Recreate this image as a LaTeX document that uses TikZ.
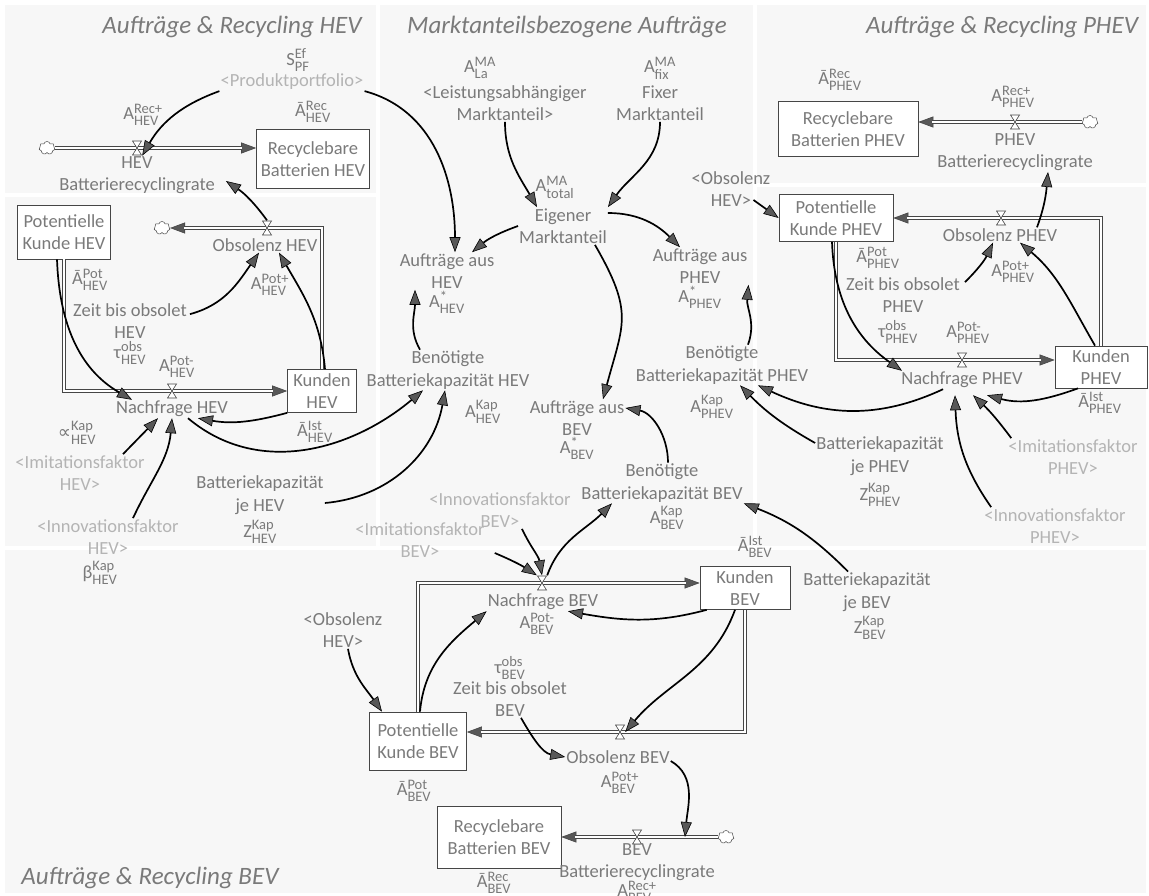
\documentclass[tikz,border=0pt]{standalone}
\usepackage{amsmath}
\usepackage{fontspec}
\setmainfont{Carlito}
\newfontfamily\symbolfont{DejaVu Sans}
\usepackage{tikz}
\usetikzlibrary{arrows.meta,shapes.symbols}
\usepackage{xcolor}
\definecolor{sdGray}{RGB}{122,122,122}
\definecolor{sdLightGray}{RGB}{180,180,180}
\definecolor{sdPanel}{RGB}{247,247,247}
\definecolor{sdTip}{RGB}{88,88,88}
\definecolor{sdLine}{RGB}{70,70,70}

\DeclareMathSizes{18.5}{18.5}{14.5}{11}
\newcommand{\varfont}{\fontsize{18.5}{22.5}\selectfont}
\newcommand{\titlefont}{\fontsize{25}{30}\selectfont\itshape}
\newcommand{\sdsym}[3]{#1$^{\text{#2}}_{\text{#3}}$}

\begin{document}
\begin{tikzpicture}[
    x=1pt, y=-1pt,
    var/.style={text=sdGray, align=center, inner sep=1pt, font=\varfont},
    shadowvar/.style={var, text=sdLightGray},
    stock/.style={rectangle, draw=sdLine, fill=white, line width=0.7pt, align=center, inner sep=2pt, text=sdGray, font=\varfont},
    panel/.style={fill=sdPanel},
    paneltitle/.style={text=sdGray, font=\titlefont, inner sep=0pt},
    link/.style={draw=black, line width=1.7pt, -{Triangle[length=15pt, width=11pt, fill=sdTip, line width=0.6pt]}},
    pipe/.style={draw=sdLine, line width=0.7pt, double=white, double distance=2.6pt, shorten >=14pt},
    pipehead/.style={draw=sdLine, line width=0.3pt, -{Triangle[length=15pt, width=11pt, fill=sdTip, line width=0.6pt]}},
    valve/.style={rectangle, minimum width=10pt, minimum height=15pt, inner sep=0pt,
        path picture={\draw[sdLine, fill=white, line width=0.6pt]
            ([shift={(0.5pt,-0.5pt)}]path picture bounding box.north west) --
            ([shift={(-0.5pt,-0.5pt)}]path picture bounding box.north east) --
            ([shift={(0.5pt,0.5pt)}]path picture bounding box.south west) --
            ([shift={(-0.5pt,0.5pt)}]path picture bounding box.south east) -- cycle;}},
    source/.style={cloud, cloud puffs=7, aspect=1.3, draw=sdLine, fill=white, line width=0.5pt, minimum width=16pt, minimum height=13pt, inner sep=0pt}
]

\useasboundingbox (0,0) rectangle (1149,896);
\fill[white] (0,0) rectangle (1149,896);

% Background panels
\fill[panel] (5,5) rectangle (376,193);
\fill[panel] (5,197) rectangle (376,546);
\fill[panel] (380,5) rectangle (753,546);
\fill[panel] (757,5) rectangle (1146,183);
\fill[panel] (757,187) rectangle (1146,546);
\fill[panel] (5,550) rectangle (1146,893);

% Auftraege & Recycling HEV (top left)
\node[paneltitle] (titleHEV) at (232,27) {Aufträge \& Recycling HEV};
\node[var] (sefPF) at (298,60) {\sdsym{S}{Ef}{PF}};
\node[shadowvar] (portfolio) at (292,82) {<Produktportfolio>};
\node[var] (recHEVsym) at (313,112) {\sdsym{Ā}{Rec}{HEV}};
\node[stock, minimum width=113pt, minimum height=59pt] (recHEV) at (313,159) {Recyclebare\\Batterien HEV};
\node[var] (recRateHEVsym) at (143,115) {\sdsym{A}{Rec+}{HEV}};
\node[var] (recRateHEV) at (137,175) {HEV\\Batterierecyclingrate};
\node[source] (cloudRecHEV) at (47,148) {};

% Kunden HEV (middle left)
\node[stock, minimum width=93pt, minimum height=54pt] (potHEV) at (64,232) {Potentielle\\Kunde HEV};
\node[var] (potHEVsym) at (90,280) {\sdsym{Ā}{Pot}{HEV}};
\node[stock, minimum width=69pt, minimum height=43pt] (kunHEV) at (322,391) {Kunden\\HEV};
\node[var] (kunHEVsym) at (315,432) {\sdsym{Ā}{Ist}{HEV}};
\node[source] (cloudObsHEV) at (162,228) {};
\node[var] (obsHEV) at (265,245) {Obsolenz HEV};
\node[var] (obsHEVsym) at (270,285) {\sdsym{A}{Pot+}{HEV}};
\node[var] (zeitHEV) at (130,321) {Zeit bis obsolet\\HEV};
\node[var] (tauHEV) at (130,353) {\sdsym{τ}{obs}{HEV}};
\node[var] (nachHEVsym) at (177,367) {\sdsym{A}{Pot-}{HEV}};
\node[var] (nachHEV) at (172,409) {Nachfrage HEV};
\node[var] (imiHEVsym) at (77,433) {\sdsym{{\symbolfont ∝}}{Kap}{HEV}};
\node[shadowvar] (imiHEV) at (80,473) {<Imitationsfaktor\\HEV>};
\node[shadowvar] (innoHEV) at (108,537) {<Innovationsfaktor\\HEV>};
\node[var] (innoHEVsym) at (100,573) {\sdsym{β}{Kap}{HEV}};
\node[var] (kapHEV) at (260,495) {Batteriekapazität\\je HEV};
\node[var] (kapHEVsym) at (260,532) {\sdsym{Z}{Kap}{HEV}};

% Marktanteilsbezogene Auftraege (middle)
\node[paneltitle] (titleMA) at (567,27) {Marktanteilsbezogene Aufträge};
\node[var] (laMAsym) at (480,68) {\sdsym{A}{MA}{La}};
\node[var] (laMA) at (505,103) {<Leistungsabhängiger\\Marktanteil>};
\node[var] (fixMAsym) at (660,68) {\sdsym{A}{MA}{fix}};
\node[var] (fixMA) at (660,103) {Fixer\\Marktanteil};
\node[var] (totalMAsym) at (555,187) {\sdsym{A}{MA}{total}};
\node[var] (eigMA) at (563,226) {Eigener\\Marktanteil};
\node[var] (aufHEV) at (447,271) {Aufträge aus\\HEV};
\node[var] (aufHEVsym) at (447,302) {\sdsym{A}{*}{HEV}};
\node[var] (benHEV) at (448,370) {Benötigte\\Batteriekapazität HEV};
\node[var] (benHEVsym) at (483,412) {\sdsym{A}{Kap}{HEV}};
\node[var] (aufPHEV) at (700,266) {Aufträge aus\\PHEV};
\node[var] (aufPHEVsym) at (700,297) {\sdsym{A}{*}{PHEV}};
\node[var] (benPHEV) at (722,365) {Benötigte\\Batteriekapazität PHEV};
\node[var] (benPHEVsym) at (712,407) {\sdsym{A}{Kap}{PHEV}};
\node[var] (aufBEV) at (577,418) {Aufträge aus\\BEV};
\node[var] (aufBEVsym) at (577,448) {\sdsym{A}{*}{BEV}};
\node[var] (benBEV) at (662,483) {Benötigte\\Batteriekapazität BEV};
\node[var] (benBEVsym) at (667,518) {\sdsym{A}{Kap}{BEV}};
\node[shadowvar] (innoBEV) at (500,510) {<Innovationsfaktor\\BEV>};
\node[shadowvar] (imiBEV) at (420,540) {<Imitationsfaktor\\BEV>};

% Auftraege & Recycling PHEV (right)
\node[paneltitle] (titlePHEV) at (1002,27) {Aufträge \& Recycling PHEV};
\node[var] (recPHEVsym) at (840,80) {\sdsym{Ā}{Rec}{PHEV}};
\node[stock, minimum width=140pt, minimum height=55pt] (recPHEV) at (848,129) {Recyclebare\\Batterien PHEV};
\node[var] (recRatePHEVsym) at (1013,97) {\sdsym{A}{Rec+}{PHEV}};
\node[var] (recRatePHEV) at (1015,152) {PHEV\\Batterierecyclingrate};
\node[source] (cloudRecPHEV) at (1090,122) {};
\node[var] (obsInPHEV) at (731,189) {<Obsolenz\\HEV>};
\node[stock, minimum width=114pt, minimum height=47pt] (potPHEV) at (836,218) {Potentielle\\Kunde PHEV};
\node[var] (potPHEVsym) at (878,258) {\sdsym{Ā}{Pot}{PHEV}};
\node[var] (obsPHEV) at (1000,235) {Obsolenz PHEV};
\node[var] (obsPHEVsym) at (1013,272) {\sdsym{A}{Pot+}{PHEV}};
\node[var] (zeitPHEV) at (903,295) {Zeit bis obsolet\\PHEV};
\node[var] (tauPHEV) at (898,332) {\sdsym{τ}{obs}{PHEV}};
\node[var] (nachPHEVsym) at (968,333) {\sdsym{A}{Pot-}{PHEV}};
\node[stock, minimum width=92pt, minimum height=42pt] (kunPHEV) at (1101,367) {Kunden\\PHEV};
\node[var] (nachPHEV) at (962,380) {Nachfrage PHEV};
\node[var] (kunPHEVsym) at (1100,403) {\sdsym{Ā}{Ist}{PHEV}};
\node[var] (kapPHEV) at (880,456) {Batteriekapazität\\je PHEV};
\node[var] (kapPHEVsym) at (880,495) {\sdsym{Z}{Kap}{PHEV}};
\node[shadowvar] (imiPHEV) at (1073,457) {<Imitationsfaktor\\PHEV>};
\node[shadowvar] (innoPHEV) at (1055,526) {<Innovationsfaktor\\PHEV>};

% Auftraege & Recycling BEV (bottom)
\node[paneltitle] (titleBEV) at (150,878) {Aufträge \& Recycling BEV};
\node[stock, minimum width=90pt, minimum height=43pt] (kunBEV) at (745,588) {Kunden\\BEV};
\node[var] (kunBEVsym) at (755,547) {\sdsym{Ā}{Ist}{BEV}};
\node[var] (kapBEV) at (867,592) {Batteriekapazität\\je BEV};
\node[var] (kapBEVsym) at (870,628) {\sdsym{Z}{Kap}{BEV}};
\node[var] (nachBEV) at (543,602) {Nachfrage BEV};
\node[var] (nachBEVsym) at (537,624) {\sdsym{A}{Pot-}{BEV}};
\node[var] (obsInBEV) at (343,630) {<Obsolenz\\HEV>};
\node[var] (tauBEV) at (510,668) {\sdsym{τ}{obs}{BEV}};
\node[var] (zeitBEV) at (510,699) {Zeit bis obsolet\\BEV};
\node[stock, minimum width=97pt, minimum height=58pt] (potBEV) at (418,741) {Potentielle\\Kunde BEV};
\node[var] (potBEVsym) at (414,791) {\sdsym{Ā}{Pot}{BEV}};
\node[var] (obsBEV) at (618,757) {Obsolenz BEV};
\node[var] (obsBEVsym) at (620,783) {\sdsym{A}{Pot+}{BEV}};
\node[stock, minimum width=124pt, minimum height=62pt] (recBEV) at (499,837) {Recyclebare\\Batterien BEV};
\node[var] (recBEVsym) at (494,883) {\sdsym{Ā}{Rec}{BEV}};
\node[var] (recRateBEV) at (637,862) {BEV\\Batterierecyclingrate};
\node[var] (recRateBEVsym) at (637,892) {\sdsym{A}{Rec+}{BEV}};
\node[source] (cloudRecBEV) at (726,837) {};

% Flow pipes (head first, double line on top)
\draw[pipehead] (cloudRecHEV.east) -- (cloudRecHEV.east -| recHEV.west);
\draw[pipe] (cloudRecHEV.east) -- (cloudRecHEV.east -| recHEV.west);
\draw[pipehead] (potHEV.south) |- (kunHEV.west);
\draw[pipe] (potHEV.south) |- (kunHEV.west);
\draw[pipehead] (kunHEV.north) |- (cloudObsHEV.east);
\draw[pipe] (kunHEV.north) |- (cloudObsHEV.east);

\draw[pipehead] (cloudRecPHEV.west) -- (cloudRecPHEV.west -| recPHEV.east);
\draw[pipe] (cloudRecPHEV.west) -- (cloudRecPHEV.west -| recPHEV.east);
\draw[pipehead] (potPHEV.south) |- ([yshift=7pt]kunPHEV.west);
\draw[pipe] (potPHEV.south) |- ([yshift=7pt]kunPHEV.west);
\draw[pipehead] (kunPHEV.north) |- (potPHEV.east);
\draw[pipe] (kunPHEV.north) |- (potPHEV.east);

\draw[pipehead] (potBEV.north) |- ([yshift=5pt]kunBEV.west);
\draw[pipe] (potBEV.north) |- ([yshift=5pt]kunBEV.west);
\draw[pipehead] (kunBEV.south) |- ([yshift=9pt]potBEV.east);
\draw[pipe] (kunBEV.south) |- ([yshift=9pt]potBEV.east);
\draw[pipehead] (cloudRecBEV.west) -- (cloudRecBEV.west -| recBEV.east);
\draw[pipe] (cloudRecBEV.west) -- (cloudRecBEV.west -| recBEV.east);

% Valves
\node[valve] (valveRecHEV) at (137,148) {};
\node[valve] (valveNachHEV) at (172,391) {};
\node[valve] (valveObsHEV) at (267,228) {};
\node[valve] (valveRecPHEV) at (1015,122) {};
\node[valve] (valveNachPHEV) at (962,360) {};
\node[valve] (valveObsPHEV) at (1001,218) {};
\node[valve] (valveNachBEV) at (542,583) {};
\node[valve] (valveObsBEV) at (620,732) {};
\node[valve] (valveRecBEV) at (637,837) {};

% Causal links HEV
\draw[link] (portfolio.south west) to[bend right=20] (valveRecHEV.south east);
\draw[link] (valveObsHEV.north) to[bend right=10] ([shift={(10,6)}]recRateHEV.east);
\draw[link] (portfolio.south east) to[out=-15, in=90] ([xshift=8pt]aufHEV.north);
\draw[link] ([xshift=-7pt]potHEV.south) to[out=-88, in=150] ([xshift=-40pt]nachHEV.north);
\draw[link] ([shift={(2,12)}]zeitHEV.north east) to[out=15, in=-125] ([xshift=-6pt]obsHEV.south);
\draw[link] ([xshift=3pt]kunHEV.north) to[out=95, in=-60] ([xshift=14pt]obsHEV.south);
\draw[link] (kunHEV.south west) to[out=195, in=-10] ([xshift=26pt]nachHEV.south);
\draw[link] ([xshift=16pt]nachHEV.south) to[out=-40, in=-140] ([xshift=-25pt]benHEV.south);
\draw[link] ([yshift=-8pt]kapHEV.east) to[out=5, in=-100] ([xshift=-3pt]benHEV.south);
\draw[link] ([xshift=43pt]imiHEV.north) -- ([xshift=-14pt]nachHEV.south);
\draw[link] ([xshift=25pt]innoHEV.north) to[out=65, in=-95] (nachHEV.south);

% Causal links market share
\draw[link] (laMA.south) to[out=-90, in=120] ([xshift=-26pt]eigMA.north);
\draw[link] (fixMA.south) to[out=-90, in=55] (eigMA.north east);
\draw[link] (eigMA.west) to[bend right=10] ([xshift=25pt]aufHEV.north);
\draw[link] ([yshift=13pt]eigMA.east) to[out=0, in=135] ([xshift=-20pt]aufPHEV.north);
\draw[link] ([xshift=-13pt]eigMA.south east) to[out=-60, in=75, looseness=1.3] ([xshift=26pt]aufBEV.north);
\draw[link] ([xshift=-28pt]benHEV.north) to[out=120, in=-90] ([xshift=-32pt]aufHEV.south);
\draw[link] ([xshift=26pt]benPHEV.north) to[out=70, in=-95] (aufPHEV.south east);
\draw[link] ([xshift=6pt]benBEV.north) to[out=90, in=-10] ([yshift=10pt]aufBEV.east);
\draw[link] ([shift={(9,13)}]imiBEV.east) to[bend left=5] (valveNachBEV.north west);
\draw[link] ([xshift=22pt]innoBEV.south) to[out=-65, in=100] (valveNachBEV.north);
\draw[link] (valveNachBEV.north east) to[out=70, in=-135] ([xshift=-50pt]benBEV.south);
\draw[link] ([xshift=-19pt]kapBEV.north) to[bend right=12] (benBEV.south east);

% Causal links PHEV
\draw[link] ([shift={(-18,11)}]obsInPHEV.east) -- (potPHEV.west);
\draw[link] ([xshift=-4pt]potPHEV.south) to[out=-88, in=145] ([xshift=-60pt]nachPHEV.north);
\draw[link] ([shift={(4,6)}]zeitPHEV.north east) to[bend right=10] ([xshift=-7pt]obsPHEV.south);
\draw[link] ([xshift=-6pt]kunPHEV.north) to[out=120, in=-40] ([xshift=20pt]obsPHEV.south);
\draw[link] ([xshift=-23pt]kunPHEV.south) to[out=200, in=-15] ([shift={(25,6)}]nachPHEV.south);
\draw[link] ([xshift=-19pt]nachPHEV.south) to[out=205, in=-25] ([xshift=36pt]benPHEV.south);
\draw[link] ([yshift=13pt]kapPHEV.west) to[bend left=8] ([xshift=18pt]benPHEV.south);
\draw[link] ([xshift=4pt]imiPHEV.north west) to[bend right=5] ([shift={(11,6)}]nachPHEV.south);
\draw[link] ([xshift=8pt]innoPHEV.north west) to[out=125, in=-88] ([shift={(-7,6)}]nachPHEV.south);
\draw[link] ([xshift=37pt]obsPHEV.north) to[out=70, in=-95] ([xshift=33pt]recRatePHEV.south);

% Causal links BEV
\draw[link] ([xshift=5pt]obsInBEV.south) to[out=-80, in=125] ([xshift=-36pt]potBEV.north);
\draw[link] ([xshift=2pt]potBEV.north) to[out=85, in=-140] (nachBEV.south west);
\draw[link] ([xshift=7pt]kunBEV.south west) to[out=195, in=-10] ([xshift=25pt]nachBEV.south);
\draw[link] ([xshift=-10pt]kunBEV.south) to[out=-110, in=50] (valveObsBEV.east);
\draw[link] ([xshift=11pt]zeitBEV.south) to[out=-60, in=170] (obsBEV.west);
\draw[link] ([yshift=-4pt]obsBEV.east) to[out=-30, in=85] ([xshift=48pt]valveRecBEV.center);

\end{tikzpicture}
\end{document}
